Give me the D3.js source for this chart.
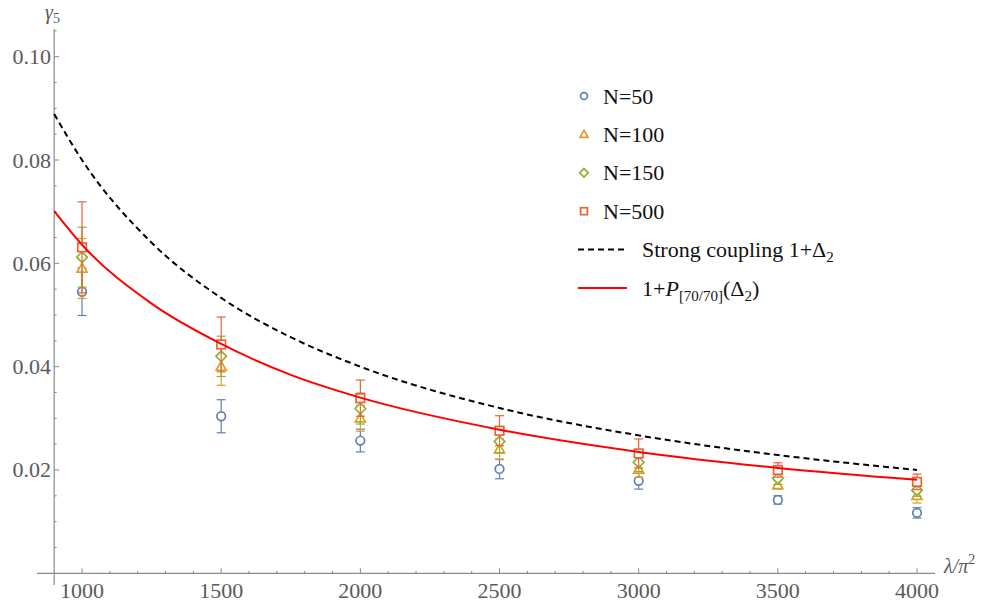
<!DOCTYPE html>
<html><head><meta charset="utf-8">
<script src="https://cdn.jsdelivr.net/npm/d3@7"></script>
<style>body{margin:0;background:#fff}svg{display:block}</style>
</head><body>
<svg id="c" width="989" height="602"></svg>
<script>
const lambdas = [1000,1500,2000,2500,3000,3500,4000];
const n50 = [0.0545,0.0304,0.0257,0.0202,0.0179,0.0142,0.0117];
const n50err = [0.0046,0.0032,0.0022,0.0019,0.0016,0.0008,0.0010];
const n100 = [0.0590,0.0400,0.0300,0.0240,0.0201,0.0171,0.0150];
const n100err = [0.0058,0.0036,0.0025,0.0020,0.0015,0.0008,0.0014];
const n150 = [0.0612,0.0420,0.0319,0.0255,0.0215,0.0184,0.0161];
const n150err = [0.0058,0.0039,0.0030,0.0022,0.0018,0.0012,0.0012];
const n500 = [0.0631,0.0443,0.0339,0.0276,0.0232,0.0200,0.0177];
const n500err = [0.0088,0.0053,0.0035,0.0029,0.0028,0.0014,0.0015];
const curveX = [900,1000,1250,1500,1750,2000,2500,3000,3500,4000];
const strongY = [0.0889,0.0800,0.0640,0.0533,0.0457,0.0400,0.0320,0.0267,0.0229,0.0200];
const padeY = [0.0701,0.0636,0.0522,0.0444,0.0384,0.0340,0.0278,0.0235,0.0204,0.0181];
const xTicks = [1000,1500,2000,2500,3000,3500,4000];
const yTicks = [0.02,0.04,0.06,0.08,0.10];
const seriesNames = ["N=50","N=100","N=150","N=500"];

const svg = d3.select("#c");
const x = d3.scaleLinear().domain([900,4000]).range([54.2,917]);
const y = d3.scaleLinear().domain([0,0.1]).range([573.3,56.7]);
const axisCol = "#8a8a8a", labCol = "#5a5a5a";
const font = "'Liberation Serif','Times New Roman',serif";

// axes lines
svg.append("line").attr("x1",37).attr("x2",935).attr("y1",y(0)).attr("y2",y(0)).attr("stroke",axisCol).attr("stroke-width",1.2);
svg.append("line").attr("x1",x(900)).attr("x2",x(900)).attr("y1",29).attr("y2",585).attr("stroke",axisCol).attr("stroke-width",1.2);

// x ticks
const xMinor = d3.range(1000,4001,100);
svg.selectAll(".xm").data(xMinor).enter().append("line")
  .attr("x1",d=>x(d)).attr("x2",d=>x(d)).attr("y1",y(0)).attr("y2",d=>y(0)-(d%500===0?5:2.5))
  .attr("stroke",axisCol).attr("stroke-width",1);
svg.selectAll(".xl").data(xTicks).enter().append("text")
  .attr("x",d=>x(d)).attr("y",598).attr("text-anchor","middle")
  .attr("font-family",font).attr("font-size",22).attr("fill",labCol).text(d=>d);

// y ticks
const yMinor = d3.range(1,22).map(i=>i*0.005);
svg.selectAll(".ym").data(yMinor).enter().append("line")
  .attr("x1",x(900)).attr("x2",(d,i)=>x(900)+((i+1)%4===0?5:2.5)).attr("y1",d=>y(d)).attr("y2",d=>y(d))
  .attr("stroke",axisCol).attr("stroke-width",1);
svg.selectAll(".yl").data(yTicks).enter().append("text")
  .attr("x",51).attr("y",d=>y(d)+7.5).attr("text-anchor","end")
  .attr("font-family",font).attr("font-size",22).attr("fill",labCol).text(d=>d.toFixed(2));

// axis labels
const gl = svg.append("text").attr("x",45).attr("y",19).attr("font-family",font).attr("font-size",20).attr("fill",labCol);
gl.append("tspan").attr("font-style","italic").text("γ");
gl.append("tspan").attr("font-size",14).attr("dy",4).text("5");
const ll = svg.append("text").attr("x",944).attr("y",573).attr("font-family",font).attr("font-size",20).attr("fill",labCol);
ll.append("tspan").attr("font-style","italic").text("λ/π");
ll.append("tspan").attr("font-size",14).attr("dy",-9).text("2");

// data series
const colors = ["#5e81b5","#e19c24","#8fb032","#eb6235"];
const vals = [n50,n100,n150,n500];
const errs = [n50err,n100err,n150err,n500err];
function marker(g, k, cx, cy, s){
  const c = colors[k];
  if(k===0) g.append("circle").attr("cx",cx).attr("cy",cy).attr("r",4.3*s);
  else if(k===1) g.append("path").attr("d",`M${cx},${cy-5.3*s}L${cx+5*s},${cy+3.6*s}L${cx-5*s},${cy+3.6*s}Z`);
  else if(k===2) g.append("path").attr("d",`M${cx},${cy-5.3*s}L${cx+5.3*s},${cy}L${cx},${cy+5.3*s}L${cx-5.3*s},${cy}Z`);
  else g.append("rect").attr("x",cx-4.3*s).attr("y",cy-4.3*s).attr("width",8.6*s).attr("height",8.6*s);
  g.selectAll("*").attr("fill","#fff").attr("stroke",c).attr("stroke-width",1.7);
}
vals.forEach((vs,k)=>{
  const g = svg.append("g");
  const c = colors[k];
  vs.forEach((v,i)=>{
    const cx = x(lambdas[i]), e = errs[k][i];
    g.append("line").attr("x1",cx).attr("x2",cx).attr("y1",y(v+e)).attr("y2",y(v-e)).attr("stroke",c).attr("stroke-width",1.2);
    [v+e,v-e].forEach(t=>g.append("line").attr("x1",cx-4.5).attr("x2",cx+4.5).attr("y1",y(t)).attr("y2",y(t)).attr("stroke",c).attr("stroke-width",1.2));
  });
  vs.forEach((v,i)=>marker(g.append("g"),k,x(lambdas[i]),y(v),1));
});

// curves
const line = d3.line().x((d,i)=>x(curveX[i])).y(d=>y(d)).curve(d3.curveMonotoneX);
svg.append("path").attr("d",line(strongY)).attr("fill","none").attr("stroke","#000").attr("stroke-width",2).attr("stroke-dasharray","6,4");
svg.append("path").attr("d",line(padeY)).attr("fill","none").attr("stroke","#ff0000").attr("stroke-width",2);

// legend
const lx = 584, tx = 603, ly0 = 96, dy = 38.4;
seriesNames.forEach((n,k)=>{
  marker(svg.append("g"),k,lx,ly0+k*dy,0.8);
  svg.append("text").attr("x",tx).attr("y",ly0+k*dy+7.5).attr("font-family",font).attr("font-size",22).attr("fill","#111").text(n);
});
svg.append("line").attr("x1",578).attr("x2",627).attr("y1",ly0+4*dy).attr("y2",ly0+4*dy).attr("stroke","#000").attr("stroke-width",2).attr("stroke-dasharray","6,4");
const t5 = svg.append("text").attr("x",642).attr("y",ly0+4*dy+7.5).attr("font-family",font).attr("font-size",22).attr("fill","#111");
t5.append("tspan").text("Strong coupling 1+Δ");
t5.append("tspan").attr("font-size",15).attr("dy",5).text("2");
svg.append("line").attr("x1",578).attr("x2",627).attr("y1",ly0+5*dy).attr("y2",ly0+5*dy).attr("stroke","#ff0000").attr("stroke-width",2);
const t6 = svg.append("text").attr("x",642).attr("y",ly0+5*dy+7.5).attr("font-family",font).attr("font-size",22).attr("fill","#111");
t6.append("tspan").text("1+");
t6.append("tspan").attr("font-style","italic").text("P");
t6.append("tspan").attr("font-size",15).attr("dy",5).text("[70/70]");
t6.append("tspan").attr("dy",-5).text("(Δ");
t6.append("tspan").attr("font-size",15).attr("dy",5).text("2");
t6.append("tspan").attr("dy",-5).text(")");
</script>
</body></html>
